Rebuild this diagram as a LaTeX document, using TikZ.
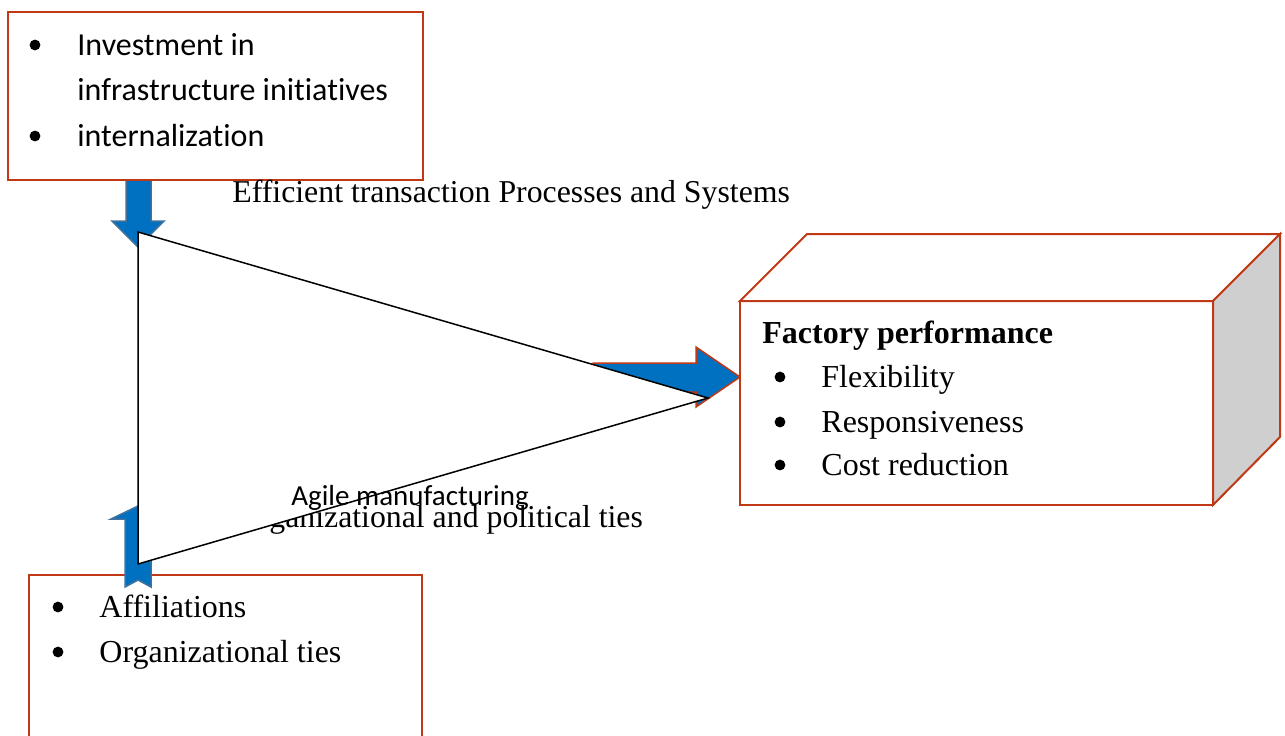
\documentclass[tikz,border=0pt]{standalone}
\usepackage{fontspec}
\newfontfamily\carlito{Carlito}[Ligatures=NoCommon]
\newfontfamily\tnr{Liberation Serif}
\definecolor{rojoborde}{RGB}{192,57,22}
\definecolor{azulflecha}{RGB}{0,112,192}
\definecolor{azulborde}{RGB}{65,113,156}
\definecolor{grislado}{RGB}{207,207,207}

\begin{document}
\begin{tikzpicture}[x=0.5pt,y=-0.5pt,
	caja/.style={draw=rojoborde, line width=1pt, fill=white},
	flecha/.style={fill=azulflecha, draw=azulborde, line width=0.75pt},
	texto/.style={anchor=base west, inner sep=0pt},
	vineta/.style={fill=black},
	]
	\useasboundingbox (0,0) rectangle (1285,735);
	\def\tx{138}  % eje de las flechas verticales
	\def\r{2.7pt} % radio de las vinetas
	
	% Flecha hacia abajo
	\draw[flecha] (126,180) -- (151,180) -- (151,221) -- (164,221) -- (\tx,247) -- (112,221) -- (126,221) -- cycle;
	
	% Caja superior
	\draw[caja] (8,12) rectangle (423,180);
	\fill[vineta] (35,45) circle[radius=\r];
	\fill[vineta] (35,136) circle[radius=\r];
	\node[texto, font=\carlito\fontsize{16}{19}\selectfont] (inv) at (77,55) {Investment in};
	\node[texto, font=\carlito\fontsize{16}{19}\selectfont] (infra) at (77,100) {infrastructure initiatives};
	\node[texto, font=\carlito\fontsize{16}{19}\selectfont] (inter) at (77,146) {internalization};
	
	% Caja inferior
	\draw[caja] (29,575) rectangle (422,760);
	\fill[vineta] (58,607) circle[radius=\r];
	\fill[vineta] (58,652) circle[radius=\r];
	\node[texto, font=\tnr\fontsize{16}{19}\selectfont] (afil) at (99,617) {Affiliations};
	\node[texto, font=\tnr\fontsize{16}{19}\selectfont] (org) at (99,662) {Organizational ties};
	
	% Flecha hacia arriba
	\draw[flecha] (125,587) -- (\tx,580) -- (151,587) -- (151,519) -- (165,519) -- (\tx,506) -- (111,519) -- (125,519) -- cycle;
	
	% Flecha hacia la derecha
	\draw[flecha, draw=rojoborde] (593,363) -- (696,363) -- (696,347) -- (740,377) -- (696,407) -- (696,392) -- (593,392) -- cycle;
	
	% Etiquetas
	\node[texto, font=\tnr\fontsize{15.9}{18}\selectfont] (efic) at (232,202) {Efficient transaction Processes and Systems};
	\node[texto, font=\tnr\fontsize{15.9}{18}\selectfont] (lazos) at (236,527) {Organizational and political ties};
	
	% Triangulo
	\draw[line width=0.75pt, fill=white] (\tx,232) -- (708,398) -- (\tx,564) -- cycle;
	\node[texto, font=\carlito\fontsize{14.5}{17}\selectfont] (agil) at (291,505) {Agile manufacturing};
	
	% Caja 3D
	\draw[caja] (740,301) rectangle (1213,505); % Cara frontal
	\draw[caja] (740,301) -- (807,234) -- (1280,234) -- (1213,301) -- cycle; % Cara superior
	\draw[caja, fill=grislado] (1213,301) -- (1280,234) -- (1280,437) -- (1213,505) -- cycle; % Cara derecha
	\node[texto, font=\tnr\bfseries\fontsize{16}{19}\selectfont] (fp) at (762,343) {Factory performance};
	\foreach \y/\t [count=\i] in {387/Flexibility, 432/Responsiveness, 475/Cost reduction} {
		\fill[vineta] (780,\y-10) circle[radius=\r];
		\node[texto, font=\tnr\fontsize{16}{19}\selectfont] (fp\i) at (821,\y) {\t};
	}
\end{tikzpicture}
\end{document}
